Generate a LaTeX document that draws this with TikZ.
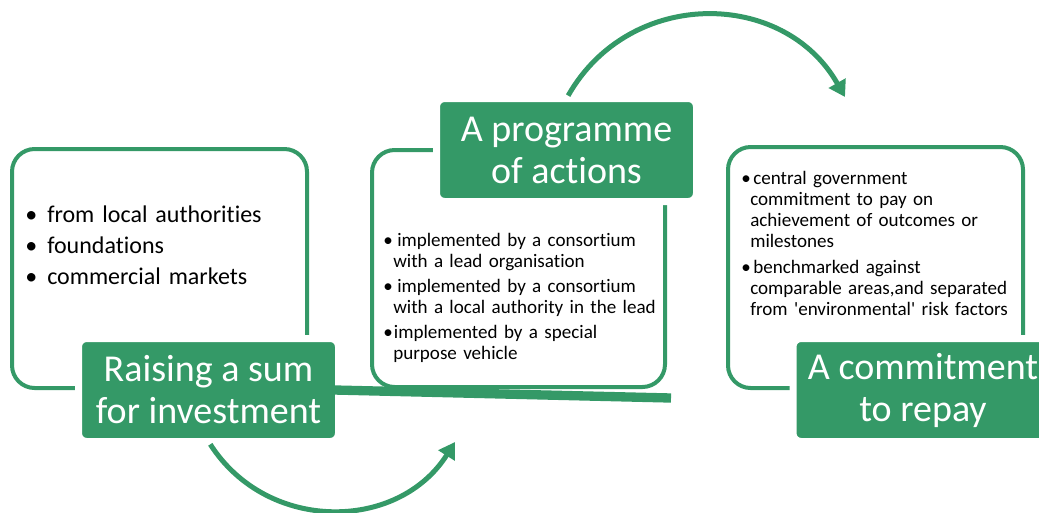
\documentclass[tikz,border=0pt]{standalone}
\usepackage{fontspec}
\setmainfont{Carlito}[Ligatures=NoCommon]
\usetikzlibrary{arrows.meta}
\definecolor{sibgreen}{RGB}{52,153,103}
% bullet item: bullet box width, hanging indent, text
\newcommand{\bitem}[3]{\par\hangindent=#2\hangafter=1\noindent\makebox[#1][l]{\textbullet}\ignorespaces#3}
\tikzset{
  outline/.style={draw=sibgreen,line width=3pt,rounded corners=17pt},
  title/.style={fill=sibgreen,draw=white,line width=5.25pt,rounded corners=6pt,outer sep=0pt,
    minimum width=195pt,minimum height=77.25pt,text=white,align=center,
    font=\fontsize{28.5}{31.5}\selectfont},
  items/.style={anchor=north west,inner sep=0pt,text width=#1,
    execute at begin node=\raggedright}, 
  flow/.style={draw=sibgreen,line width=3.75pt,-{Triangle[length=12pt,width=14pt]}}
}
\begin{document}
\begin{tikzpicture}[x=0.75pt,y=-0.75pt]
		\useasboundingbox (0,0) rectangle (1039,512);
		\clip (0,0) rectangle (1039,512);
		% outlined boxes
		\node[outline,minimum width=221.25pt,minimum height=179.25pt] (sumbox) at (159.5,268.5) {};
		\node[outline,minimum width=219.75pt,minimum height=177.75pt] (progbox) at (518.5,268.5) {};
		\node[outline,minimum width=221.25pt,minimum height=180.75pt] (repaybox) at (875.5,267.5) {};
		% bullet texts
		\node[items=200pt,font=\fontsize{18}{23.25}\selectfont] (sumtext) at (25,191) {%
			\bitem{16.5pt}{0pt}{from local authorities}
			\bitem{16.5pt}{0pt}{foundations}
			\bitem{16.5pt}{0pt}{commercial markets}\par};
		\node[items=210pt,font=\fontsize{14.3}{15.75}\selectfont] (progtext) at (383,221) {%
			\setlength{\parskip}{3pt}%
			\bitem{10.5pt}{7.5pt}{implemented by a consortium\newline with a lead organisation}
			\bitem{10.5pt}{7.5pt}{implemented by a consortium\newline with a local authority in the lead}
			\bitem{8pt}{7.5pt}{implemented by a special\newline purpose vehicle}\par};
		\node[items=210pt,font=\fontsize{14.3}{15.75}\selectfont] (repaytext) at (741,159) {%
			\setlength{\parskip}{3.5pt}%
			\bitem{9pt}{6.75pt}{central government\newline commitment to pay on\newline achievement of outcomes or\newline milestones}
			\bitem{9pt}{6.75pt}{benchmarked against\newline comparable areas,and separated\newline from \textquotesingle environmental\textquotesingle\ risk factors}\par};
		% green titles
		\node[title] (sum) at (208.5,390) {Raising a sum\\for investment};
		\node[title] (prog) at (566.5,150) {A programme\\of actions};
		\node[title] (repay) at (923,390) {A commitment\\to repay};
		% connectors
		\coordinate (barend) at (671,398);
		\coordinate (bottip) at (455,442);
		\coordinate (toptip) at (845,97);
		\draw[draw=sibgreen,line width=7pt] ([xshift=-3pt]sum.east) -- (barend);
		\draw[flow,shorten <=2.5pt] (sum.south) .. controls (267,533) and (398,532) .. (bottip);
		\draw[flow,shorten <=2.5pt] (prog.north) .. controls (629.5,-12.4) and (783.7,-11.1) .. (toptip);
		\end{tikzpicture}
\end{document}
